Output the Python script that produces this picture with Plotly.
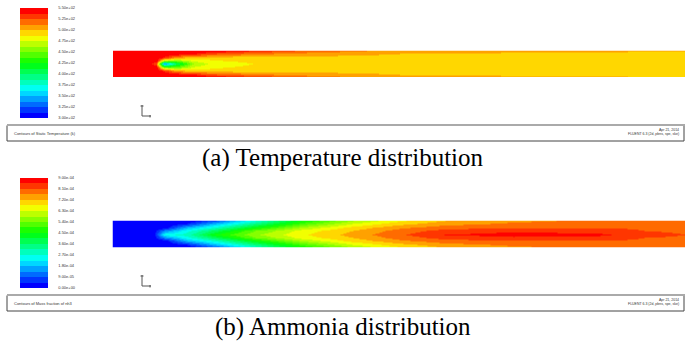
import plotly.graph_objects as go

W, H = 685, 343

# ---------------- data ----------------
# radial stations across the tube (wall to wall)
radial_pos = [-1.0, -0.8, -0.5, -0.25, 0.0, 0.25, 0.5, 0.8, 1.0]

# (a) static temperature (K) along the tube
temp_x = [0.0, 0.06, 0.075, 0.09, 0.11, 0.14, 0.18, 0.25, 0.35, 0.5, 0.7, 1.0]
temp_wall = [550, 550, 550, 550, 550, 550, 548, 535, 520, 508, 503, 500]
temp_r080 = [550, 550, 550, 550, 550, 540, 525, 515, 507, 500, 498, 498]
temp_r050 = [550, 550, 550, 535, 505, 495, 493, 493, 495, 495, 495, 495]
temp_r025 = [550, 550, 550, 465, 455, 478, 487, 490, 493, 495, 495, 495]
temp_center = [550, 550, 525, 338, 400, 462, 482, 488, 493, 495, 495, 495]
temp_levels = [300, 325, 350, 375, 400, 425, 450, 475, 500, 525, 550]
temp_ticktext = ["3.00e+02", "3.25e+02", "3.50e+02", "3.75e+02", "4.00e+02",
                 "4.25e+02", "4.50e+02", "4.75e+02", "5.00e+02", "5.25e+02",
                 "5.50e+02"]

# (b) NH3 mass fraction (x 1e-4) along the tube
nh3_x = [0.0, 0.07, 0.09, 0.13, 0.18, 0.25, 0.33, 0.42, 0.5, 0.58, 0.7, 0.85, 0.93, 1.0]
nh3_wall = [0.0, 0.0, 0.0, 0.0, 0.9, 2.7, 4.5, 5.85, 6.66, 7.2, 7.56, 7.74, 7.74, 7.74]
nh3_r080 = [0.0, 0.0, 0.0, 0.45, 1.8, 3.42, 5.04, 6.3, 7.02, 7.47, 7.74, 7.83, 7.83, 7.83]
nh3_r050 = [0.0, 0.0, 0.18, 1.8, 2.88, 4.5, 5.94, 6.93, 7.56, 7.92, 8.1, 8.1, 8.01, 7.92]
nh3_r025 = [0.0, 0.0, 1.35, 2.52, 3.78, 5.4, 6.48, 7.2, 7.83, 8.28, 8.46, 8.37, 8.1, 8.01]
nh3_center = [0.0, 0.0, 2.52, 2.88, 4.5, 5.76, 6.66, 7.38, 8.01, 8.55, 8.73, 8.64, 8.28, 8.1]
nh3_levels = [0.0, 0.9, 1.8, 2.7, 3.6, 4.5, 5.4, 6.3, 7.2, 8.1, 9.0]
nh3_ticktext = ["0.00e+00", "9.00e-05", "1.80e-04", "2.70e-04", "3.60e-04",
                "4.50e-04", "5.40e-04", "6.30e-04", "7.20e-04", "8.10e-04",
                "9.00e-04"]

panel_titles = ["Contours of Static Temperature (k)", "Contours of Mass fraction of nh3"]
stamp_date = "Apr 21, 2014"
stamp_solver = "FLUENT 6.3 (2d, pbns, spe, ske)"
captions = ["(a) Temperature distribution", "(b) Ammonia distribution"]


# ---------------- helpers ----------------
def mirror(wall, r08, r05, r025, center):
    return [wall, r08, r05, r025, center, r025, r05, r08, wall]


def rainbow(f):
    if f < 0.25:
        r, g, b = 0, 255 * 4 * f, 255
    elif f < 0.5:
        r, g, b = 0, 255, 255 * (1 - 4 * (f - 0.25))
    elif f < 0.75:
        r, g, b = 255 * 4 * (f - 0.5), 255, 0
    else:
        r, g, b = 255, 255 * (1 - 4 * (f - 0.75)), 0
    return "rgb(%d,%d,%d)" % (round(r), round(g), round(b))


n_bands = 20
banded = []
for k in range(n_bands):
    c = rainbow(k / (n_bands - 1))
    banded.append([k / n_bands, c])
    banded.append([(k + 1) / n_bands, c])


def px(x):
    return x / W


def py(y):
    return 1 - y / H


def cbar(top, levels, text):
    return dict(
        x=px(20), xanchor="left", y=py(top), yanchor="top",
        len=110 / H, lenmode="fraction", thickness=28, thicknessmode="pixels",
        outlinewidth=0, xpad=0, ypad=0,
        tickvals=levels, ticktext=text, ticks="outside", ticklen=10,
        tickcolor="rgba(0,0,0,0)", tickfont=dict(size=4, family="Arial", color="#333"),
    )


fig = go.Figure()

fig.add_trace(go.Heatmap(
    x=temp_x, y=radial_pos,
    z=mirror(temp_wall, temp_r080, temp_r050, temp_r025, temp_center),
    zmin=temp_levels[0], zmax=temp_levels[-1], zsmooth="best",
    colorscale=banded, colorbar=cbar(8, temp_levels, temp_ticktext),
    xaxis="x", yaxis="y", hoverinfo="skip",
))

nh3_z = [[v * 1e-4 for v in row] for row in mirror(nh3_wall, nh3_r080, nh3_r050, nh3_r025, nh3_center)]
fig.add_trace(go.Heatmap(
    x=nh3_x, y=radial_pos, z=nh3_z,
    zmin=nh3_levels[0] * 1e-4, zmax=nh3_levels[-1] * 1e-4, zsmooth="best",
    colorscale=banded,
    colorbar=cbar(178, [v * 1e-4 for v in nh3_levels], nh3_ticktext),
    xaxis="x2", yaxis="y2", hoverinfo="skip",
))

ax = dict(visible=False, fixedrange=True)
fig.update_layout(
    width=W, height=H, margin=dict(l=0, r=0, t=0, b=0),
    paper_bgcolor="white", plot_bgcolor="white", showlegend=False,
    xaxis=dict(ax, domain=[px(113), 1], range=[0, 1]),
    yaxis=dict(ax, domain=[py(77), py(50.5)], range=[-1, 1]),
    xaxis2=dict(ax, domain=[px(112.5), 1], range=[0, 1]),
    yaxis2=dict(ax, domain=[py(247.5), py(220.5)], range=[-1, 1]),
)

shapes = []
annotations = []
for i, off in enumerate([0, 170]):
    # info box
    shapes.append(dict(type="rect", xref="paper", yref="paper",
                       x0=px(7), x1=px(684), y0=py(141 + off), y1=py(125.5 + off),
                       line=dict(color="#444", width=1)))
    shapes.append(dict(type="line", xref="paper", yref="paper",
                       x0=px(7), x1=px(685), y0=py(125 + off), y1=py(125 + off),
                       line=dict(color="#aaa", width=2)))
    # axis triad
    shapes.append(dict(type="line", xref="paper", yref="paper",
                       x0=px(142), x1=px(142), y0=py(105 + off), y1=py(116 + off),
                       line=dict(color="#555", width=1)))
    shapes.append(dict(type="line", xref="paper", yref="paper",
                       x0=px(142), x1=px(151), y0=py(116 + off), y1=py(116 + off),
                       line=dict(color="#555", width=1)))
    shapes.append(dict(type="line", xref="paper", yref="paper",
                       x0=px(150), x1=px(150), y0=py(115 + off), y1=py(117.5 + off),
                       line=dict(color="#555", width=1)))
    shapes.append(dict(type="line", xref="paper", yref="paper",
                       x0=px(140.5), x1=px(143.5), y0=py(106 + off), y1=py(106 + off),
                       line=dict(color="#555", width=1)))
    annotations.append(dict(text=panel_titles[i], xref="paper", yref="paper",
                            x=px(12), y=py(133.5 + off), xanchor="left", yanchor="middle",
                            showarrow=False, font=dict(size=4, family="Arial", color="#333")))
    annotations.append(dict(text=stamp_date, xref="paper", yref="paper",
                            x=px(681), y=py(129.5 + off), xanchor="right", yanchor="middle",
                            showarrow=False, font=dict(size=3.5, family="Arial", color="#333")))
    annotations.append(dict(text=stamp_solver, xref="paper", yref="paper",
                            x=px(681), y=py(134 + off), xanchor="right", yanchor="middle",
                            showarrow=False, font=dict(size=3.5, family="Arial", color="#333")))

annotations.append(dict(text=captions[0], xref="paper", yref="paper",
                        x=0.5, y=py(158), xanchor="center", yanchor="middle", showarrow=False,
                        font=dict(size=25, family="Liberation Serif", color="black")))
annotations.append(dict(text=captions[1], xref="paper", yref="paper",
                        x=0.5, y=py(327), xanchor="center", yanchor="middle", showarrow=False,
                        font=dict(size=25, family="Liberation Serif", color="black")))

fig.update_layout(shapes=shapes, annotations=annotations)
fig.write_html("out.html", config={"displayModeBar": False},
               post_script="document.body.style.margin='0';document.body.style.overflow='hidden';")
